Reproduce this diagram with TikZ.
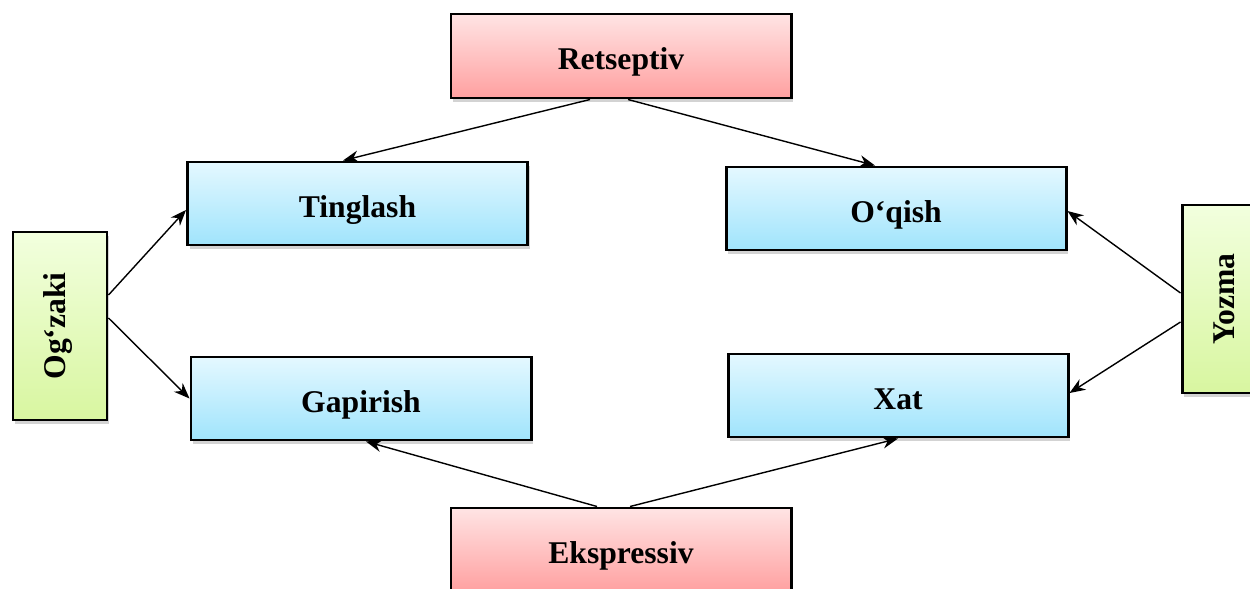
\documentclass[tikz,border=0pt]{standalone}
\usepackage{fontspec}
\setmainfont{Liberation Serif}
\usepackage{tikz}
\usetikzlibrary{arrows.meta, shadows}
\definecolor{redtop}{RGB}{255,228,228}
\definecolor{redbot}{RGB}{255,160,160}
\definecolor{bluetop}{RGB}{228,248,255}
\definecolor{bluebot}{RGB}{160,228,252}
\definecolor{greentop}{RGB}{242,255,222}
\definecolor{greenbot}{RGB}{216,246,160}

\begin{document}
\begin{tikzpicture}
% Define styles
\tikzstyle{base} = [rectangle, draw=black, line width=1.7pt, align=center, text height=0.68cm, text depth=0.14cm, font=\fontsize{18}{20}\selectfont\bfseries, drop shadow={opacity=0.35, shadow xshift=0.04cm, shadow yshift=-0.08cm}]
\tikzstyle{kind} = [base, minimum width=6.8cm, minimum height=1.68cm, top color=redtop, bottom color=redbot]
\tikzstyle{skill} = [base, minimum width=6.8cm, minimum height=1.66cm, top color=bluetop, bottom color=bluebot]
\tikzstyle{form} = [base, text height=0.36cm, minimum width=3.76cm, minimum height=1.88cm, rotate=90, top color=greentop, bottom color=greenbot]
\tikzstyle{arrow} = [-{Stealth[length=9pt, width=7pt]}, line width=0.8pt]
\useasboundingbox (0,0) rectangle (25,-11.78);
% Place nodes
\node (ret) [kind] at (12.42,-1.12) {Retseptiv};
\node (ting) [skill] at (7.15,-4.07) {Tinglash};
\node (oqi) [skill] at (17.92,-4.17) {O‘qish};
\node (gap) [skill] at (7.22,-7.97) {Gapirish};
\node (xat) [skill] at (17.96,-7.91) {Xat};
\node (eks) [kind] at (12.42,-11.0) {Ekspressiv};
\node (ogz) [form] at (1.2,-6.52) {Og‘zaki};
\node (yoz) [form] at (24.58,-5.98) {Yozma};
% Draw arrows
\draw [arrow] ([xshift=-0.62cm]ret.south) -- ([xshift=-0.29cm]ting.north);
\draw [arrow] ([xshift=0.14cm]ret.south) -- ([xshift=-0.42cm]oqi.north);
\draw [arrow] ([yshift=0.62cm]ogz.south) -- ([yshift=-0.13cm]ting.west);
\draw [arrow] ([yshift=0.16cm]ogz.south) -- (gap.west);
\draw [arrow] ([yshift=0.12cm]yoz.north) -- ([yshift=-0.05cm]oqi.east);
\draw [arrow] ([yshift=-0.46cm]yoz.north) -- ([yshift=0.05cm]xat.east);
\draw [arrow] ([xshift=-0.48cm]eks.north) -- ([xshift=0.1cm]gap.south);
\draw [arrow] ([xshift=0.18cm]eks.north) -- (xat.south);
\end{tikzpicture}
\end{document}
